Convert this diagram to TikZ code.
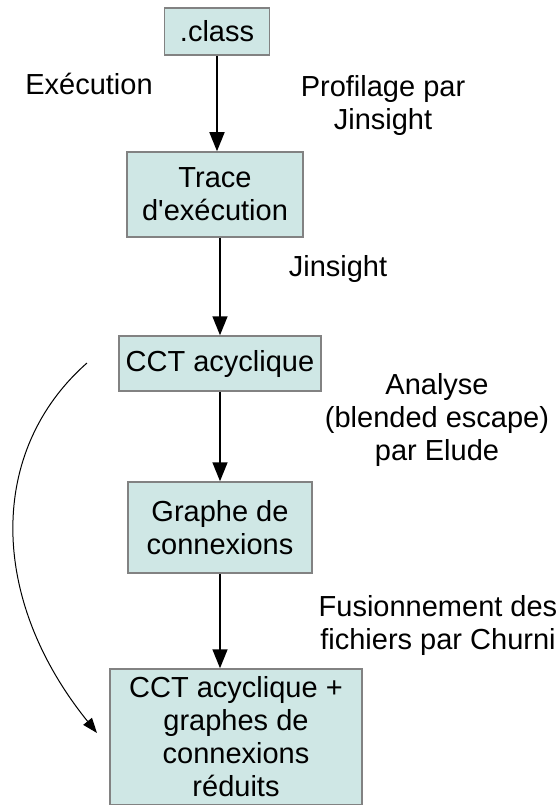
\documentclass[tikz,border=0pt]{standalone}
\usepackage{fontspec}
\setmainfont{Liberation Sans}[Ligatures=TeXOff]
\usetikzlibrary{arrows.meta}
\definecolor{fondboite}{RGB}{207,231,229}
\definecolor{bordboite}{RGB}{130,130,130}
\begin{document}
\begin{tikzpicture}[x=1pt,y=-1pt,every node/.style={font=\fontsize{29}{33}\selectfont}]
% Styles
\tikzstyle{boite}=[draw=bordboite,line width=1.5pt,fill=fondboite,align=center,inner sep=0pt]
\tikzstyle{etiquette}=[align=center,inner sep=0pt]
\tikzstyle{fleche}=[-{Triangle[length=19pt,width=15pt]},line width=1.6pt]
\tikzstyle{courbe}=[-{Triangle[length=15pt,width=11pt]},line width=1pt]
% Cadre
\useasboundingbox (0,0) rectangle (557,805);
% Boites
\node[boite,minimum width=105,minimum height=47] (classe) at (217,31.5) {.class};
\node[boite,minimum width=176,minimum height=85] (trace) at (215,194.5) {Trace\\d'exécution};
\node[boite,minimum width=202,minimum height=55] (cct) at (220,363.5) {CCT acyclique};
\node[boite,minimum width=184,minimum height=91] (graphe) at (220,527.5) {Graphe de\\connexions};
\node[boite,minimum width=252,minimum height=136] (final) at (236,737) {CCT acyclique +\\graphes de\\connexions\\réduits};
% Etiquettes
\node[etiquette] (exec) at (89,84) {Exécution};
\node[etiquette] (profil) at (383,106) {Profilage par\\Jinsight};
\node[etiquette] (jinsight) at (338,269.5) {Jinsight};
\node[etiquette] (analyse) at (437,419.5) {Analyse\\(blended escape)\\par Elude};
\node[etiquette] (fusion) at (438,625) {Fusionnement des\\fichiers par Churni};
% Fleches
\draw[fleche] (classe.south) -- (classe.south |- trace.north);
\draw[fleche] (trace.south -| cct.north) -- (cct.north);
\draw[fleche] (cct.south) -- (graphe.north);
\draw[fleche] (graphe.south) -- (graphe.south |- final.north);
% Fleche courbe
\coordinate (depart) at (87,363);
\coordinate (arrivee) at (97,733);
\draw[courbe] (depart) .. controls (-12,450) and (-12,598) .. (arrivee);
\end{tikzpicture}
\end{document}
